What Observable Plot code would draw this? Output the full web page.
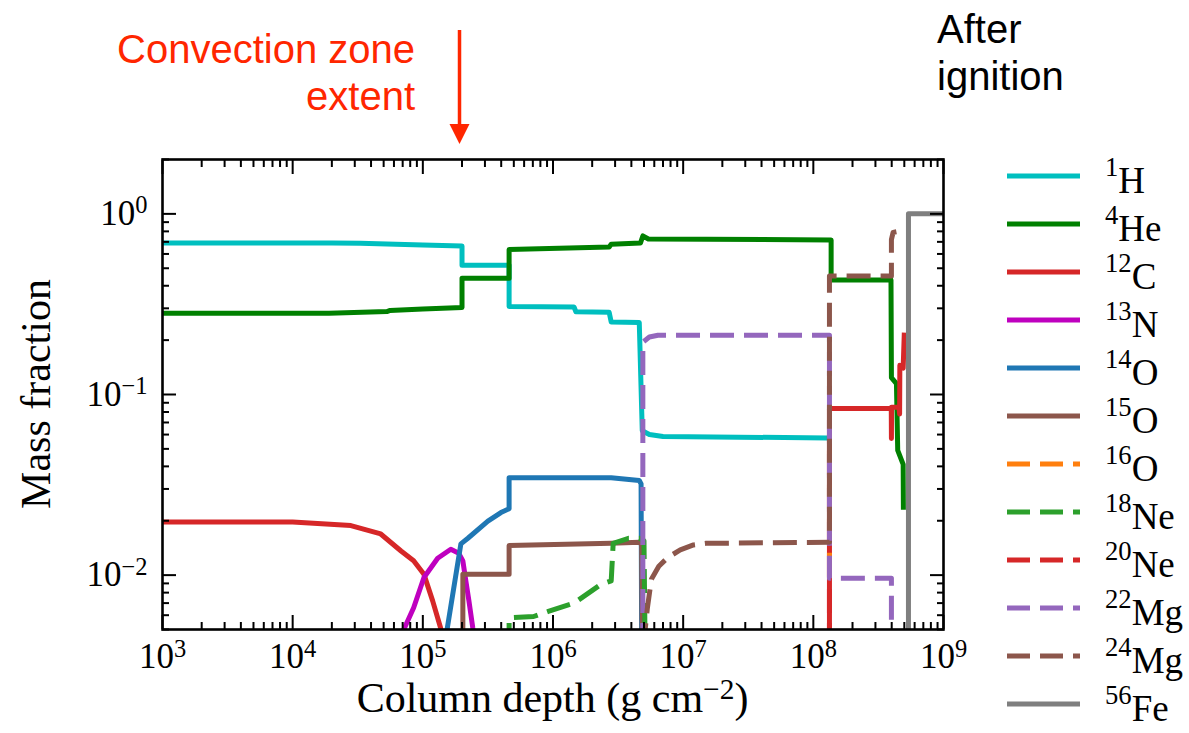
<!DOCTYPE html>
<html><head><meta charset="utf-8">
<script src="https://cdn.jsdelivr.net/npm/d3@7"></script>
<script src="https://cdn.jsdelivr.net/npm/@observablehq/plot@0.6"></script>
<style>
body{margin:0;background:#fff;}
#chart{position:relative;width:1189px;height:733px;}
</style></head><body><div id="chart"></div>
<script>
// ---- data: [column depth (g cm^-2), mass fraction]; null = break ----
const H1 = [[1e3,0.69],[2e4,0.69],[3.3e4,0.688],[1e5,0.672],[2.0e5,0.664],[2.0e5,0.52],[4.6e5,0.52],[4.6e5,0.307],[1.45e6,0.305],[1.5e6,0.287],[2.7e6,0.285],[2.8e6,0.252],[4.6e6,0.25],[4.85e6,0.063],[5.5e6,0.06],[7e6,0.0585],[1.3e8,0.0575]];
const He4 = [[1e3,0.282],[1.9e4,0.282],[5.3e4,0.288],[5.6e4,0.292],[1.0e5,0.297],[2.0e5,0.303],[2.0e5,0.44],[4.6e5,0.44],[4.6e5,0.635],[2.7e6,0.655],[2.8e6,0.68],[4.7e6,0.69],[4.9e6,0.755],[5.4e6,0.726],[1.37e8,0.717],[1.37e8,0.43],[3.95e8,0.43],[3.98e8,0.124],[4.35e8,0.115],[4.45e8,0.049],[4.9e8,0.041],[4.92e8,0.023]];
const C12 = [[1e3,0.0197],[1e4,0.0197],[2.8e4,0.0188],[4.75e4,0.0169],[6.8e4,0.0136],[8.5e4,0.012],[1.02e5,0.0101],[1.19e5,0.0072],[1.37e5,0.0051],[1.45e5,0.004],null,[1.33e8,0.004],[1.33e8,0.0836],[3.97e8,0.0836],[3.98e8,0.057],[3.99e8,0.085],[4.55e8,0.085],[4.6e8,0.078],[4.62e8,0.145],[4.9e8,0.14],[5.0e8,0.22]];
const N13 = [[6.9e4,0.0045],[7.14e4,0.005],[8.5e4,0.0066],[1.02e5,0.0097],[1.3e5,0.0124],[1.64e5,0.0139],[1.89e5,0.0132],[2.03e5,0.012],[2.14e5,0.0093],[2.26e5,0.0072],[2.42e5,0.0051],[2.5e5,0.0045]];
const O14 = [[1.5e5,0.0045],[1.96e5,0.0149],[2.22e5,0.016],[3.16e5,0.0199],[3.98e5,0.0222],[4.6e5,0.0233],[4.6e5,0.0346],[2.8e6,0.0346],[4.6e6,0.0334],[4.75e6,0.032],[4.8e6,0.004]];
const O15 = [[2.03e5,0.004],[2.03e5,0.0101],[4.6e5,0.0101],[4.6e5,0.0146],[2.8e6,0.015],[4.6e6,0.0152],[4.8e6,0.0148],[4.85e6,0.004]];
const O16 = [[1.33e8,0.0098],[1.33e8,0.06]];
const Ne18 = [[4.6e5,0.004],[4.6e5,0.0058],[7.1e5,0.0059],[9.2e5,0.0063],[1.45e6,0.007],[2.34e6,0.0089],[2.8e6,0.0093],[2.9e6,0.015],[3.8e6,0.016],[4.6e6,0.016],[5.0e6,0.0155],[5.1e6,0.004]];
const Ne20 = [[1.33e8,0.004],[1.33e8,0.0095]];
const Mg22 = [[4.9e6,0.004],[4.9e6,0.195],[5.5e6,0.208],[6.4e6,0.213],[1.33e8,0.213],[1.33e8,0.0096],[3.98e8,0.0096],[3.98e8,0.004]];
const Mg24 = [[4.95e6,0.004],[5.3e6,0.0065],[5.7e6,0.0095],[6.5e6,0.0112],[7.6e6,0.0125],[9.5e6,0.0138],[1.2e7,0.0147],[1.5e7,0.015],[1.33e8,0.0152],[1.33e8,0.453],[3.98e8,0.453],[3.98e8,0.72],[4.1e8,0.79],[4.5e8,0.8],[5.4e8,0.8]];
const Fe56 = [[5.38e8,0.004],[5.38e8,1.0],[1e9,1.0]];

const speciesMass = ["1","4","12","13","14","15","16","18","20","22","24","56"];
const speciesName = ["H","He","C","N","O","O","O","Ne","Ne","Mg","Mg","Fe"];
const speciesData = [H1,He4,C12,N13,O14,O15,O16,Ne18,Ne20,Mg22,Mg24,Fe56];
const speciesColor = ["#00bfbf","#008000","#d62728","#bf00bf","#1f77b4","#8c564b","#ff7f0e","#2ca02c","#d62728","#9467bd","#8c564b","#7f7f7f"];
const speciesDashed = [false,false,false,false,false,false,true,true,true,true,true,false];

const xMajor = [1e3,1e4,1e5,1e6,1e7,1e8,1e9];
const xMinor = [3,4,5,6,7,8].flatMap(e => [2,3,4,5,6,7,8,9].map(k => k*10**e));
const yMajor = [0.01,0.1,1];
const yMinor = [0.005,0.006,0.007,0.008,0.009,0.02,0.03,0.04,0.05,0.06,0.07,0.08,0.09,0.2,0.3,0.4,0.5,0.6,0.7,0.8,0.9,2];
const xTickExp = ["3","4","5","6","7","8","9"];
const yTickExp = ["−2","−1","0"];

// ---- layout ----
const W = 1189, Ht = 733;
const frame = {left:162, right:943, top:159, bottom:629};
const serif = "'Liberation Serif', 'Times New Roman', serif";
const sans = "'Liberation Sans', Arial, Helvetica, sans-serif";

const rows = [];
speciesData.forEach((d, i) => d.forEach(p => rows.push(p ? {s:i, x:p[0], y:p[1]} : {s:i, x:NaN, y:NaN})));

const lineMarks = speciesData.map((d, i) => Plot.line(rows.filter(r => r.s === i), {
  x: "x", y: "y", stroke: speciesColor[i], strokeWidth: 5,
  strokeDasharray: speciesDashed[i] ? "24,10" : null,
  strokeLinejoin: "round", strokeLinecap: "butt", clip: true
}));

const tickStyle = {stroke: "black", strokeWidth: 2, label: null, tickFormat: () => ""};
const plot = Plot.plot({
  width: W, height: Ht,
  marginLeft: frame.left, marginRight: W - frame.right, marginTop: frame.top, marginBottom: Ht - frame.bottom,
  style: {fontFamily: serif, background: "white", color: "black"},
  x: {type: "log", domain: [1e3, 1e9]},
  y: {type: "log", domain: [0.005, 2]},
  marks: [
    ...lineMarks,
    Plot.axisX({anchor: "bottom", ticks: xMajor, tickSize: -14, ...tickStyle}),
    Plot.axisX({anchor: "bottom", ticks: xMinor, tickSize: -7, ...tickStyle}),
    Plot.axisX({anchor: "top", ticks: xMajor, tickSize: -14, ...tickStyle}),
    Plot.axisX({anchor: "top", ticks: xMinor, tickSize: -7, ...tickStyle}),
    Plot.axisY({anchor: "left", ticks: yMajor, tickSize: -14, ...tickStyle}),
    Plot.axisY({anchor: "left", ticks: yMinor, tickSize: -7, ...tickStyle}),
    Plot.axisY({anchor: "right", ticks: yMajor, tickSize: -14, ...tickStyle}),
    Plot.axisY({anchor: "right", ticks: yMinor, tickSize: -7, ...tickStyle}),
    Plot.axisX({anchor: "bottom", ticks: xMajor, tickSize: 0, tickPadding: 14, label: null, fontSize: 35,
      tickFormat: d => "10^" + xTickExp[xMajor.indexOf(d)]}),
    Plot.axisY({anchor: "left", ticks: yMajor, tickSize: 0, tickPadding: 15, label: null, fontSize: 35,
      tickFormat: d => "10^" + yTickExp[yMajor.indexOf(d)]}),
    Plot.frame({stroke: "black", strokeWidth: 2.6})
  ]
});
document.getElementById("chart").appendChild(plot);

const svg = d3.select(plot);
// superscripts in tick labels
svg.selectAll("text").each(function() {
  const t = d3.select(this);
  const m = /^10\^(.+)$/.exec(t.text());
  if (m) {
    t.text("");
    t.append("tspan").text("10");
    t.append("tspan").attr("dy", "-0.48em").attr("font-size", "0.7em").text(m[1]);
  }
});

const xs = plot.scale("x");
// axis labels
const xl = svg.append("text").attr("x", (frame.left + frame.right) / 2).attr("y", 712)
  .attr("text-anchor", "middle").attr("font-family", serif).attr("font-size", 42).attr("fill", "black");
xl.append("tspan").text("Column depth (g cm");
xl.append("tspan").attr("dy", "-0.45em").attr("font-size", "0.7em").text("−2");
xl.append("tspan").attr("dy", "0.315em").text(")");
svg.append("text").attr("transform", `translate(50,${(frame.top + frame.bottom) / 2}) rotate(-90)`)
  .attr("text-anchor", "middle").attr("font-family", serif).attr("font-size", 42).attr("fill", "black")
  .text("Mass fraction");

// annotations
const red = "#ff2600";
[["Convection zone", 63], ["extent", 110]].forEach(([s, y]) =>
  svg.append("text").attr("x", 415).attr("y", y).attr("text-anchor", "end")
    .attr("font-family", sans).attr("font-size", 40).attr("fill", red).text(s));
const ax = xs.apply(1.93e5);
svg.append("line").attr("x1", ax).attr("x2", ax).attr("y1", 30).attr("y2", 128)
  .attr("stroke", red).attr("stroke-width", 3.5);
svg.append("path").attr("d", `M${ax - 10},124 L${ax + 10},124 L${ax},144 Z`).attr("fill", red);
[["After", 43], ["ignition", 90]].forEach(([s, y]) =>
  svg.append("text").attr("x", 937).attr("y", y).attr("text-anchor", "start")
    .attr("font-family", sans).attr("font-size", 40).attr("fill", "black").text(s));

// legend
const lg = svg.append("g");
speciesMass.forEach((m, i) => {
  const y = 176 + 48 * i;
  lg.append("line").attr("x1", 1007).attr("x2", 1080).attr("y1", y).attr("y2", y)
    .attr("stroke", speciesColor[i]).attr("stroke-width", 5)
    .attr("stroke-dasharray", speciesDashed[i] ? "23,10" : null);
  const t = lg.append("text").attr("x", 1105).attr("y", y + 12).attr("text-anchor", "start")
    .attr("font-family", serif).attr("font-size", 37).attr("fill", "black");
  t.append("tspan").attr("dy", "-0.45em").attr("font-size", "0.72em").text(m);
  t.append("tspan").attr("dy", "0.45em").text(speciesName[i]);
});
</script></body></html>
